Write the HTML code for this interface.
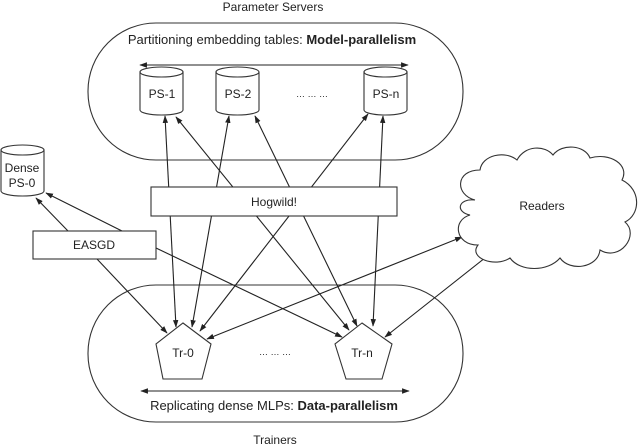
<!DOCTYPE html>
<html><head><style>
html,body{margin:0;padding:0;background:#fff;}
svg{display:block;}
text{font-family:"Liberation Sans",sans-serif;font-size:12px;fill:#222;}
</style></head><body>
<svg width="640" height="447" viewBox="0 0 640 447" xmlns="http://www.w3.org/2000/svg">
<defs>
<marker id="a" viewBox="0 0 10 10" refX="9" refY="5" markerWidth="7" markerHeight="7" orient="auto-start-reverse">
<path d="M0,1.5 L10,5 L0,8.5 z" fill="#222"/></marker>
</defs>
<g fill="none" stroke="#333" stroke-width="1.1">
<rect x="88" y="23" width="375" height="137" rx="68" ry="68"/>
<rect x="88" y="285" width="375" height="137" rx="68" ry="68"/>
</g>
<text x="273" y="11" text-anchor="middle">Parameter Servers</text>
<text x="272" y="44" text-anchor="middle" style="font-size:13px">Partitioning embedding tables: <tspan font-weight="bold">Model-parallelism</tspan></text>
<text x="274" y="410" text-anchor="middle" style="font-size:13px">Replicating dense MLPs: <tspan font-weight="bold">Data-parallelism</tspan></text>
<text x="275" y="444" text-anchor="middle">Trainers</text>
<g stroke="#222" stroke-width="1.1" fill="none">
<line x1="140" y1="65" x2="408" y2="65" marker-start="url(#a)" marker-end="url(#a)"/>
<line x1="141" y1="391" x2="409" y2="391" marker-start="url(#a)" marker-end="url(#a)"/>
<line x1="165" y1="116" x2="176" y2="327" marker-start="url(#a)" marker-end="url(#a)"/>
<line x1="176" y1="117" x2="349" y2="330" marker-start="url(#a)" marker-end="url(#a)"/>
<line x1="229" y1="116" x2="192" y2="327" marker-start="url(#a)" marker-end="url(#a)"/>
<line x1="255" y1="116" x2="357" y2="326" marker-start="url(#a)" marker-end="url(#a)"/>
<line x1="368" y1="114" x2="200" y2="331" marker-start="url(#a)" marker-end="url(#a)"/>
<line x1="383" y1="116" x2="373" y2="326" marker-start="url(#a)" marker-end="url(#a)"/>
<line x1="68" y1="231" x2="36" y2="198" marker-end="url(#a)"/>
<line x1="122" y1="231" x2="46" y2="193" marker-end="url(#a)"/>
<line x1="97" y1="259" x2="167" y2="333" marker-end="url(#a)"/>
<line x1="156" y1="248" x2="342" y2="337" marker-end="url(#a)"/>
<line x1="462" y1="237" x2="207" y2="339" marker-start="url(#a)" marker-end="url(#a)"/>
<line x1="490" y1="254" x2="385" y2="337" marker-start="url(#a)" marker-end="url(#a)"/>
</g>
<g stroke="#333" stroke-width="1.1" fill="#fff">
<rect x="151" y="187" width="246" height="29"/>
<rect x="33" y="231" width="123" height="28"/>
<path d="M140,72 V110 A21.5,5 0 0 0 183,110 V72"/><ellipse cx="161.5" cy="72" rx="21.5" ry="5"/>
<path d="M216,72 V110 A21.5,5 0 0 0 259,110 V72"/><ellipse cx="237.5" cy="72" rx="21.5" ry="5"/>
<path d="M364,72 V110 A21.5,5 0 0 0 407,110 V72"/><ellipse cx="385.5" cy="72" rx="21.5" ry="5"/>
<path d="M1,150 V191 A21.5,5 0 0 0 44,191 V150"/><ellipse cx="22.5" cy="150" rx="21.5" ry="5"/>
<polygon points="183,323 211,344 202,379 163,379 156,344"/>
<polygon points="362,323 392,344 382,379 346,379 335,344"/>
<path d="M475,200 C455,195 455,170 480,170 C482,155 505,150 517,160 C525,145 545,145 553,155 C562,143 585,145 590,158 C610,152 630,165 622,180 C642,190 640,215 625,222 C640,235 620,262 600,250 C598,268 570,272 560,258 C548,272 520,272 510,258 C495,268 468,258 478,245 C455,245 452,220 470,215 C455,212 458,198 475,200 Z"/>
</g>
<text x="162" y="98" text-anchor="middle">PS-1</text>
<text x="238" y="98" text-anchor="middle">PS-2</text>
<text x="386" y="98" text-anchor="middle">PS-n</text>
<text x="312" y="97" text-anchor="middle" style="font-size:9px">… … …</text>
<text x="22" y="172" text-anchor="middle">Dense</text>
<text x="22" y="187" text-anchor="middle">PS-0</text>
<text x="274" y="206" text-anchor="middle">Hogwild!</text>
<text x="94" y="249" text-anchor="middle">EASGD</text>
<text x="542" y="210" text-anchor="middle">Readers</text>
<text x="183" y="357" text-anchor="middle">Tr-0</text>
<text x="362" y="357" text-anchor="middle">Tr-n</text>
<text x="275" y="355" text-anchor="middle" style="font-size:9px">… … …</text>
</svg>
</body></html>
